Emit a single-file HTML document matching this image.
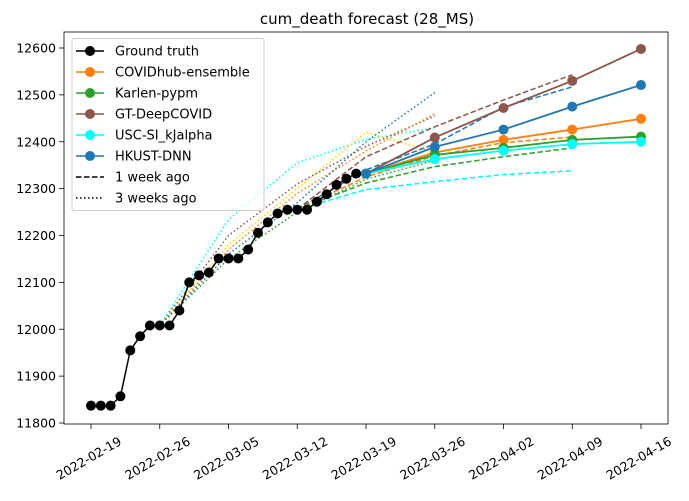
<!DOCTYPE html>
<html><head><meta charset="utf-8"><style>
body{margin:0;background:#fff;width:689px;height:496px;overflow:hidden;font-family:"Liberation Sans","DejaVu Sans",sans-serif}
svg text{font-family:"DejaVu Sans","Liberation Sans",sans-serif}
</style></head><body>
<svg id="c" width="689" height="496"></svg>
<script>
const xTicks=["2022-02-19","2022-02-26","2022-03-05","2022-03-12","2022-03-19","2022-03-26","2022-04-02","2022-04-09","2022-04-16"];
const yTicks=[11800,11900,12000,12100,12200,12300,12400,12500,12600];
const gtDays=[0,1,2,3,4,5,6,7,8,9,10,11,12,13,14,15,16,17,18,19,20,21,22,23,24,25,26,27,28];
const gtVals=[11837,11837,11837,11857,11955,11985,12008,12008,12008,12040,12100,12115,12121,12151,12151,12151,12170,12206,12228,12247,12255,12255,12255,12272,12288,12308,12321,12332,12332];
const fcDays=[28,35,42,49,56];
const ensemble=[12332,12377,12404,12426,12449];
const karlen=[12332,12372,12387,12404,12411];
const deepcovid=[12332,12409,12472,12530,12598];
const usc=[12332,12363,12381,12395,12400];
const hkust=[12332,12389,12426,12475,12521];
const wk1Days=[21,28,35,42,49];
const wk1Ensemble=[12256,12325,12370,12398,12410];
const wk1Karlen=[12256,12312,12347,12368,12387];
const wk1Deep=[12256,12368,12432,12489,12543];
const wk1Usc=[12256,12298,12315,12330,12338];
const wk1Hkust=[12256,12340,12395,12474,12517];
const wk3Days=[7,14,21,28,35];
const wk3Ensemble=[12008,12170,12290,12380,12460];
const wk3Karlen=[12008,12150,12250,12320,12360];
const wk3Deep=[12008,12200,12310,12390,12455];
const wk3Usc=[12008,12234,12355,12405,12430];
const wk3Hkust=[12008,12160,12270,12400,12505];
const wk3Gold=[12008,12180,12300,12420,12378];

const NS="http://www.w3.org/2000/svg";
const svg=document.getElementById('c');
const X=d=>91+d*550/56;
const Y=v=>423-(v-11800)*375/800;
function el(t,a,p){const e=document.createElementNS(NS,t);for(const k in a)e.setAttribute(k,a[k]);(p||svg).appendChild(e);return e;}
const t=el('text',{x:367,y:24,'font-size':15,'text-anchor':'middle',fill:'#000'});t.textContent='cum_death forecast (28_MS)';


xTicks.forEach((s,i)=>{const x=X(i*7);
 const tk=el('line',{x1:x,x2:x,y1:424,y2:429,stroke:'#000','stroke-width':0.8});
 
 
 const tx=el('text',{x:0,y:0,'font-size':12.5,'text-anchor':'middle',transform:`translate(${x},${462}) rotate(-30)`});tx.textContent=s;
 
 });
yTicks.forEach(v=>{const y=Y(v);
 const tk=el('line',{x1:59,x2:64,y1:y,y2:y,stroke:'#000','stroke-width':0.8});
 
 
 const tx=el('text',{x:56,y:y+4.5,'font-size':12.5,'text-anchor':'end'});tx.textContent=v;
 
 });
function line(days,vals,color,dash,w,name){
 const pts=days.map((d,i)=>X(d)+','+Y(vals[i])).join(' ');
 const p=el('polyline',{points:pts,fill:'none',stroke:color,'stroke-width':w||1.5,'stroke-dasharray':dash||'none'});
 
 }
function dots(days,vals,color,name){days.forEach((d,i)=>{const c=el('circle',{cx:X(d),cy:Y(vals[i]),r:5,fill:color});
 
 });}
const C={ens:'#ff7f0e',kar:'#2ca02c',deep:'#8c564b',usc:'#00ffff',hk:'#1f77b4',gold:'#ffd700'};
line(wk3Days,wk3Usc,C.usc,'1.5,2.5',1.5,'usc-3wk');
line(wk3Days,wk3Deep,C.deep,'1.5,2.5',1.5,'deepcovid-3wk');
line(wk3Days,wk3Gold,C.gold,'1.5,2.5',1.5,'gold-3wk');
line(wk3Days,wk3Ensemble,C.ens,'1.5,2.5',1.5,'ensemble-3wk');
line(wk3Days,wk3Hkust,C.hk,'1.5,2.5',1.5,'hkust-3wk');
line(wk3Days,wk3Karlen,C.kar,'1.5,2.5',1.5,'karlen-3wk');
line(wk1Days,wk1Deep,C.deep,'5.5,2.5',1.5,'deepcovid-1wk');
line(wk1Days,wk1Hkust,C.hk,'5.5,2.5',1.5,'hkust-1wk');
line(wk1Days,wk1Ensemble,C.ens,'5.5,2.5',1.5,'ensemble-1wk');
line(wk1Days,wk1Karlen,C.kar,'5.5,2.5',1.5,'karlen-1wk');
line(wk1Days,wk1Usc,C.usc,'5.5,2.5',1.5,'usc-1wk');
line(gtDays,gtVals,'#000','',1.5,'ground-truth-line');
dots(gtDays,gtVals,'#000','ground-truth-point');
[[ensemble,C.ens,'ensemble'],[karlen,C.kar,'karlen'],[deepcovid,C.deep,'deepcovid'],[usc,C.usc,'usc'],[hkust,C.hk,'hkust']].forEach(([v,c,n])=>{line(fcDays,v,c,'',1.8,n+'-line');dots(fcDays,v,c,n+'-point');});
const fr=el('rect',{x:64,y:32,width:604,height:392,fill:'none',stroke:'#000','stroke-width':0.8});


const lg=el('g',{});


el('rect',{x:72,y:38.5,width:192,height:172,rx:2,fill:'#fff','fill-opacity':0.8,stroke:'#ccc'},lg);
const items=[['Ground truth','#000','',1],['COVIDhub-ensemble',C.ens,'',1],['Karlen-pypm',C.kar,'',1],['GT-DeepCOVID',C.deep,'',1],['USC-SI_kJalpha',C.usc,'',1],['HKUST-DNN',C.hk,'',1],['1 week ago','#000','5.5,2.5',0],['3 weeks ago','#000','1.5,2.5',0]];
items.forEach((it,i)=>{const y=51+i*21;
 el('line',{x1:76,x2:104,y1:y,y2:y,stroke:it[1],'stroke-width':1.6,'stroke-dasharray':it[2]||'none'},lg);
 if(it[3])el('circle',{cx:90,cy:y,r:5,fill:it[1]},lg);
 const tx=el('text',{x:115,y:y+4.5,'font-size':13},lg);tx.textContent=it[0];
 
 });
</script>
</body></html>
